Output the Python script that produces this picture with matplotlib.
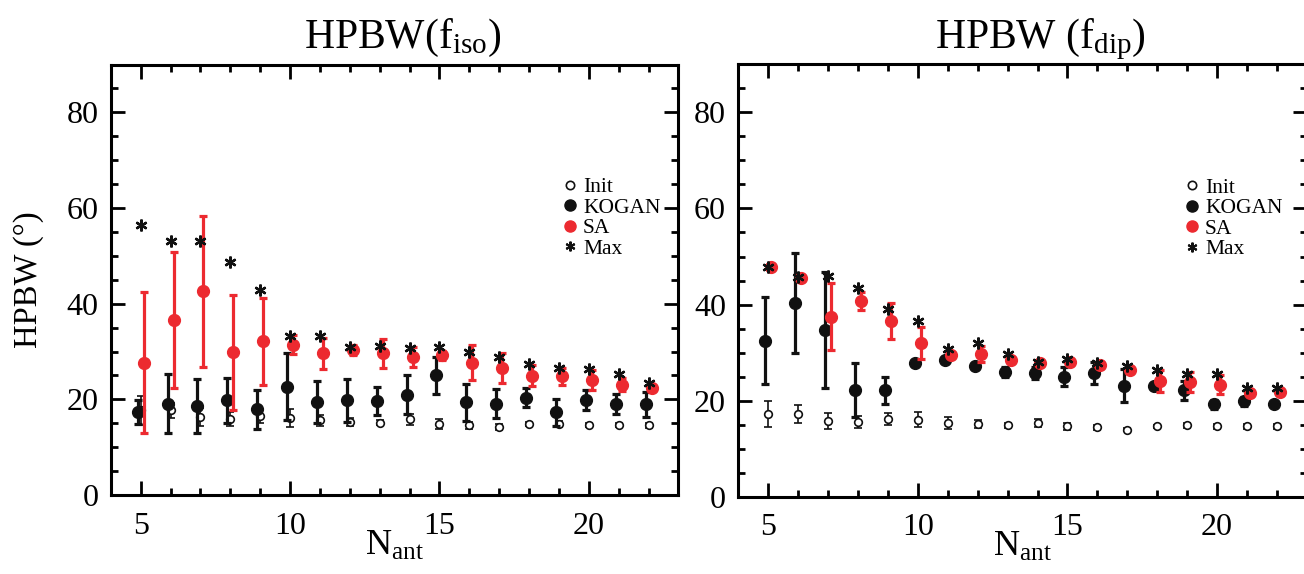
import numpy as np
import matplotlib
matplotlib.use("Agg")
import matplotlib.pyplot as plt
from matplotlib.lines import Line2D

plt.rcParams['font.family'] = ['Liberation Serif', 'DejaVu Serif']
plt.rcParams['mathtext.fontset'] = 'custom'
plt.rcParams['mathtext.rm'] = 'Liberation Serif'
plt.rcParams['mathtext.it'] = 'Liberation Serif:italic'

n_ant = np.arange(5, 23)

# ---- HPBW(f_iso) ----
init_iso = [17.7, 17.7, 16.3, 15.9, 16.5, 16.1, 15.6, 15.3, 15.1, 15.8, 14.9, 14.6, 14.2, 14.9, 14.9, 14.7, 14.7, 14.6]
init_iso_err = [3.0, 1.5, 1.9, 1.4, 1.4, 1.8, 1.2, 0.9, 0.5, 1.2, 1.0, 0.7, 0.6, 0.4, 0.6, 0.4, 0.4, 0.5]
kogan_iso = [17.4, 19.1, 18.6, 19.8, 17.9, 22.6, 19.4, 19.8, 19.6, 21.0, 25.0, 19.4, 19.1, 20.3, 17.3, 19.8, 19.1, 19.0]
kogan_iso_err = [2.5, 6.1, 5.7, 4.7, 4.1, 7.0, 4.4, 4.5, 2.9, 4.0, 3.9, 3.9, 3.1, 2.0, 2.8, 2.1, 2.1, 2.6]
sa_iso = [27.7, 36.5, 42.6, 29.8, 32.1, 31.4, 29.6, 30.3, 29.6, 28.9, 29.2, 27.7, 26.6, 24.9, 24.8, 24.0, 23.1, 22.4]
sa_iso_err = [14.8, 14.2, 15.8, 12.0, 9.1, 2.0, 3.2, 1.0, 3.0, 2.1, 0.9, 3.6, 3.1, 2.2, 1.8, 2.1, 1.4, 0.5]
max_iso = [56.4, 53.0, 53.0, 48.7, 42.8, 33.2, 33.3, 30.9, 31.2, 30.7, 30.9, 30.0, 28.9, 27.4, 26.6, 26.3, 25.4, 23.5]

# ---- HPBW(f_dip) ----
init_dip = [17.2, 17.2, 15.8, 15.5, 16.1, 16.0, 15.3, 15.1, 14.8, 15.3, 14.6, 14.4, 13.9, 14.6, 14.8, 14.6, 14.6, 14.6]
init_dip_err = [2.8, 1.8, 1.7, 1.3, 1.2, 1.6, 1.2, 0.8, 0.5, 0.9, 0.7, 0.6, 0.3, 0.4, 0.6, 0.6, 0.5, 0.6]
kogan_dip = [32.5, 40.3, 34.7, 22.2, 22.1, 27.8, 28.5, 27.2, 25.9, 25.7, 25.0, 25.7, 23.1, 23.1, 22.1, 19.2, 19.8, 19.2]
kogan_dip_err = [9.1, 10.5, 12.0, 5.6, 2.9, 0.3, 0.5, 0.3, 1.0, 1.2, 1.9, 2.3, 3.5, 0.3, 1.9, 1.0, 1.0, 0.3]
sa_dip = [47.8, 45.5, 37.5, 40.8, 36.6, 32.0, 29.4, 29.7, 28.5, 27.9, 28.1, 27.3, 26.4, 24.1, 23.8, 23.3, 21.5, 21.7]
sa_dip_err = [0.3, 0.3, 6.9, 1.9, 3.7, 3.4, 0.5, 1.6, 0.5, 0.5, 0.5, 0.6, 0.5, 2.3, 2.1, 2.0, 0.5, 0.5]
max_dip = [47.9, 45.8, 46.0, 43.4, 39.1, 36.5, 30.8, 32.0, 29.7, 28.1, 28.6, 27.9, 27.1, 26.3, 25.5, 25.5, 22.6, 22.7]

titles = [r'HPBW(f$_{\mathrm{iso}}$)', r'HPBW (f$_{\mathrm{dip}}$)']
legend_labels = ['Init', 'KOGAN', 'SA', 'Max']

RED = '#ec2a30'
BLACK = '#111111'
KOGAN_DX = -0.1
SA_DX = 0.1
ASTER = (6, 2, 0)

W, H = 1304, 574
fig = plt.figure(figsize=(W / 100, H / 100), dpi=100)

def px_rect(x0, x1, ytop, ybot):
    return [x0 / W, (H - ybot) / H, (x1 - x0) / W, (ybot - ytop) / H]

ax1 = fig.add_axes(px_rect(110.8, 678.4, 64.5, 495.0))
ax2 = fig.add_axes(px_rect(738.4, 1306.7, 64.5, 496.5))

datasets = [
    (ax1, init_iso, init_iso_err, kogan_iso, kogan_iso_err, sa_iso, sa_iso_err, max_iso),
    (ax2, init_dip, init_dip_err, kogan_dip, kogan_dip_err, sa_dip, sa_dip_err, max_dip),
]

for i, (ax, ini, inie, ko, koe, sa, sae, mx) in enumerate(datasets):
    ax.errorbar(n_ant, ini, yerr=inie, fmt='o', mfc='white', mec=BLACK, mew=1.2,
                ms=5.5, ecolor=BLACK, elinewidth=1.2, capsize=3, capthick=1.2, zorder=2)
    ax.errorbar(n_ant + KOGAN_DX, ko, yerr=koe, fmt='o', color=BLACK, ms=8.5,
                ecolor=BLACK, elinewidth=2.3, capsize=2.6, capthick=2.3, zorder=3)
    ax.errorbar(n_ant + SA_DX, sa, yerr=sae, fmt='o', color=RED, ms=8.5,
                ecolor=RED, elinewidth=2.3, capsize=2.6, capthick=2.3, zorder=4)
    ax.plot(n_ant, mx, linestyle='none', marker=ASTER, ms=8.5, mew=1.7,
            color=BLACK, zorder=5)

    ax.set_xlim(4, 23)
    ax.set_ylim(0, 90)
    ax.set_xticks([5, 10, 15, 20])
    ax.set_xticks(np.arange(4, 24), minor=True)
    ax.set_yticks([0, 20, 40, 60, 80])
    ax.set_yticks(np.arange(0, 91, 5), minor=True)
    ax.tick_params(which='both', direction='in', top=True, right=True,
                   labelsize=23, width=2.0)
    ax.tick_params(which='major', length=10, pad=9)
    ax.tick_params(which='minor', length=5)
    ax.tick_params(axis='x', which='major', pad=12)
    for sp in ax.spines.values():
        sp.set_linewidth(2.2)

    ax.set_xlabel(r'N$_{\mathrm{ant}}$', fontsize=26)
    ax.xaxis.set_label_coords(0.5, -0.08)
    ax.set_title(titles[i], fontsize=30, pad=12, x=0.515 if i == 0 else 0.531)

    handles = [
        Line2D([], [], ls='none', marker='o', mfc='white', mec=BLACK, mew=1.2, ms=6),
        Line2D([], [], ls='none', marker='o', color=BLACK, ms=8),
        Line2D([], [], ls='none', marker='o', color=RED, ms=8),
        Line2D([], [], ls='none', marker=ASTER, color=BLACK, ms=7, mew=1.5),
    ]
    anchor_x = 0.798 if i == 0 else 0.787
    ax.legend(handles, legend_labels, loc='upper left', bbox_to_anchor=(anchor_x, 0.738),
              frameon=False, fontsize=15.5, handlelength=0.6, handletextpad=0.3,
              labelspacing=0.02, borderpad=0, borderaxespad=0)

ax1.set_ylabel('HPBW (°)', fontsize=23.5)
ax1.yaxis.set_label_coords(-0.117, 0.5)

fig.savefig('out.png', dpi=100)
